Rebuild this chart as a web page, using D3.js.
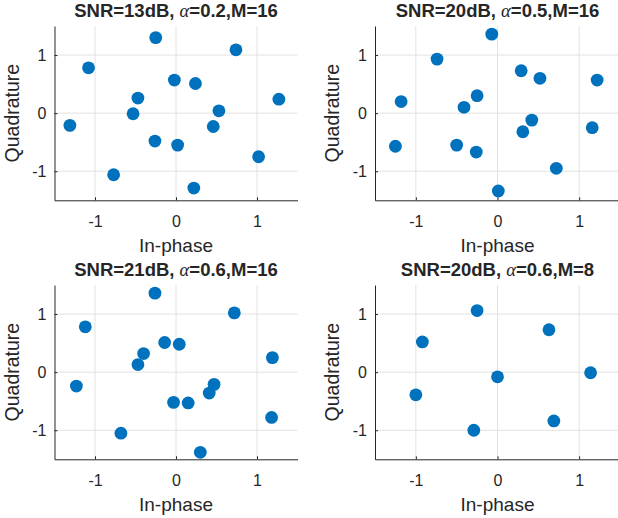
<!DOCTYPE html>
<html><head><meta charset="utf-8">
<script src="https://cdn.jsdelivr.net/npm/d3@7"></script>
<style>
html,body{margin:0;padding:0;background:#fff;overflow:hidden}
svg{display:block}
text{font-family:"Liberation Sans",Arial,Helvetica,sans-serif;fill:#262626}
</style></head>
<body>
<script>
// ---- data ----
const snrDb   = [13, 20, 21, 20];
const alphas  = ["0.2", "0.5", "0.6", "0.6"];
const orders  = [16, 16, 16, 8];
const tickVals = [-1, 0, 1];
const tickLabels = ["-1", "0", "1"];
const axisDomain = [-1.5, 1.5];
const xLabel = "In-phase";
const yLabel = "Quadrature";

const inPhase1    = [-0.25, 0.74, -1.08, -0.02, 0.24, -0.47, 1.27, -0.53, 0.53, -1.31, 0.46, -0.26, 0.02, 1.02, -0.77, 0.22];
const quadrature1 = [1.30, 1.09, 0.78, 0.57, 0.51, 0.26, 0.24, -0.01, 0.04, -0.21, -0.23, -0.48, -0.55, -0.75, -1.06, -1.29];

const inPhase2    = [-0.07, -0.74, 0.29, 0.52, 1.22, -1.18, -0.25, -0.41, 0.42, 1.16, 0.31, -1.25, -0.50, -0.26, 0.72, 0.01];
const quadrature2 = [1.36, 0.93, 0.73, 0.60, 0.57, 0.20, 0.30, 0.10, -0.12, -0.25, -0.32, -0.57, -0.55, -0.67, -0.95, -1.34];

const inPhase3    = [-0.26, 0.72, -1.12, -0.14, 0.04, -0.40, -0.47, 1.19, -1.23, 0.47, 0.41, -0.03, 0.15, 1.18, -0.68, 0.30];
const quadrature3 = [1.36, 1.02, 0.78, 0.51, 0.48, 0.32, 0.13, 0.25, -0.24, -0.21, -0.36, -0.52, -0.53, -0.78, -1.05, -1.38];

const inPhase4    = [-0.25, 0.63, -0.92, 0.00, 1.14, -1.00, 0.69, -0.29];
const quadrature4 = [1.06, 0.73, 0.52, -0.08, -0.01, -0.39, -0.84, -1.00];

const panelsI = [inPhase1, inPhase2, inPhase3, inPhase4];
const panelsQ = [quadrature1, quadrature2, quadrature3, quadrature4];

// ---- layout ----
const W = 618, H = 518;
const cols = [{l: 54.5, r: 297.5}, {l: 375, r: 620}];
const rows = [{t: 26, b: 200.3}, {t: 285, b: 459.3}];
const markerColor = "#0072BD";

const svg = d3.select("body").append("svg").attr("width", W).attr("height", H);

panelsI.forEach((xs, k) => {
  const ys = panelsQ[k];
  const c = cols[k % 2], r = rows[Math.floor(k / 2)];
  const x = d3.scaleLinear().domain(axisDomain).range([c.l, c.r]);
  const y = d3.scaleLinear().domain(axisDomain).range([r.b, r.t]);
  const g = svg.append("g");

  // grid
  g.selectAll(".gx").data(tickVals).enter().append("line")
    .attr("x1", d => x(d)).attr("x2", d => x(d))
    .attr("y1", r.t).attr("y2", r.b)
    .attr("stroke", "#e2e2e2").attr("stroke-width", 1);
  g.selectAll(".gy").data(tickVals).enter().append("line")
    .attr("x1", c.l).attr("x2", c.r)
    .attr("y1", d => y(d)).attr("y2", d => y(d))
    .attr("stroke", "#e2e2e2").attr("stroke-width", 1);

  // axes
  const xa = g.append("g").attr("transform", `translate(0,${r.b})`)
    .call(d3.axisBottom(x).tickValues(tickVals).tickFormat((d, i) => tickLabels[i])
      .tickSizeInner(-3).tickSizeOuter(0).tickPadding(0));
  const ya = g.append("g").attr("transform", `translate(${c.l},0)`)
    .call(d3.axisLeft(y).tickValues(tickVals).tickFormat((d, i) => tickLabels[i])
      .tickSizeInner(-3).tickSizeOuter(0).tickPadding(0));
  [xa, ya].forEach(a => {
    a.select(".domain").attr("stroke", "#262626").attr("stroke-width", 1);
    a.selectAll(".tick line").attr("stroke", "#262626");
    a.selectAll("text").style("font-family", '"Liberation Sans",Arial,sans-serif')
      .attr("font-size", 16).attr("fill", "#262626");
  });
  xa.selectAll("text").attr("y", 27).attr("dy", null);
  ya.selectAll("text").attr("x", -8).attr("dy", "0.35em");

  // points
  g.selectAll("circle").data(xs.map((v, i) => [v, ys[i]])).enter().append("circle")
    .attr("cx", d => x(d[0])).attr("cy", d => y(d[1])).attr("r", 6.4)
    .attr("fill", markerColor);

  // labels
  g.append("text").attr("x", (c.l + c.r) / 2).attr("y", r.b + 52)
    .attr("text-anchor", "middle").attr("font-size", 19).text(xLabel);
  g.append("text").attr("transform", `translate(${c.l - 36},${(r.t + r.b) / 2}) rotate(-90)`)
    .attr("text-anchor", "middle").attr("font-size", 19.5).text(yLabel);

  // title
  const t = g.append("text").attr("x", (c.l + c.r) / 2).attr("y", r.t - 9)
    .attr("text-anchor", "middle").attr("font-size", 18.5).attr("font-weight", "bold");
  t.append("tspan").text(`SNR=${snrDb[k]}dB, `);
  t.append("tspan").attr("font-style", "italic").attr("font-weight", "normal")
    .style("font-family", '"Liberation Serif","DejaVu Serif",serif').text("α");
  t.append("tspan").text(`=${alphas[k]},M=${orders[k]}`);
});
</script>
</body></html>
